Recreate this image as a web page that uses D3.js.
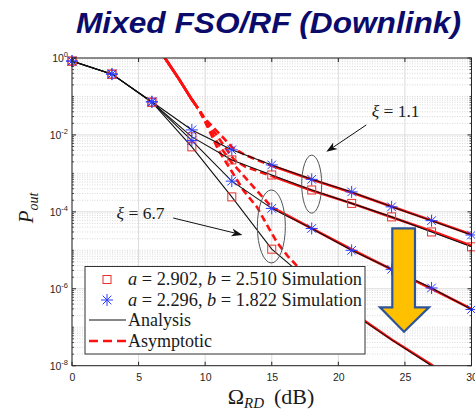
<!DOCTYPE html>
<html lang="en">
<head>
<meta charset="UTF-8">
<title>Mixed FSO/RF (Downlink)</title>
<script src="https://d3js.org/d3.v7.min.js"></script>
<style>
  body { margin: 0; background: #fff; }
  svg { display: block; }
  .tick text { font-family: "Liberation Sans", Arial, sans-serif; font-size: 10.5px; fill: #262626; }
  .serif { font-family: "Liberation Serif", "Times New Roman", serif; fill: #1a1a1a; }
</style>
</head>
<body>
<svg id="chart" width="475" height="410"></svg>
<script>
// SNR points (dB) of analysis / simulation
const snr = [0, 3, 6, 9, 12, 15, 18, 21, 24, 27, 30];

// analysis + simulation, xi = 1.1
const xi11Set2 = [0.835, 0.384, 0.073, 0.0135, 0.0041, 1.66e-3, 7.0e-4, 3.3e-4, 1.35e-4, 5.9e-5, 2.5e-5]; // a=2.296,b=1.822
const xi11Set1 = [0.83, 0.38, 0.071, 0.0089, 2.24e-3, 9.1e-4, 3.7e-4, 1.66e-4, 7.4e-5, 3.0e-5, 1.23e-5]; // a=2.902,b=2.510
// xi = 6.7
const xi67Set2 = [0.83, 0.38, 0.072, 0.0071, 6.3e-4, 1.23e-4, 3.7e-5, 1.0e-5, 3.2e-6, 1.05e-6, 2.9e-7];
const xi67Set1 = [0.83, 0.38, 0.071, 0.0049, 2.45e-4, 1.07e-5, 1.4e-6, 2.4e-7, 4.7e-8, 1.0e-8, 2.7e-9];
// simulation of the steepest case only shown down to 15 dB
const snrSimXi67Set1 = [0, 3, 6, 9, 12, 15];

// asymptotic curves [snr, Pout]
const asymXi11Set2 = [[6.9,1.1],[8,0.295],[9,0.083],[9.5,0.047],[10,0.026],[10.6,0.0158],[11.3,0.0089],[12,0.0048],[13,0.003],[15,1.58e-3],[18,6.9e-4],[21,3.2e-4],[24,1.38e-4],[27,6.0e-5],[30,2.57e-5]];
const asymXi11Set1 = [[6.9,1.1],[8,0.295],[9,0.083],[9.5,0.047],[10,0.024],[10.8,0.0105],[11.5,0.0047],[12.2,0.0022],[13,0.0015],[15,8.5e-4],[18,3.6e-4],[21,1.66e-4],[24,7.2e-5],[27,3.2e-5],[30,1.32e-5]];
const asymXi67Set2 = [[6.9,1.1],[8,0.295],[9,0.083],[9.5,0.047],[10.2,0.0178],[11,0.0056],[12,0.0019],[13,7.9e-4],[14,3.2e-4],[15,1.32e-4],[18,3.7e-5],[21,1.05e-5],[24,3.2e-6],[27,1.0e-6],[30,3.0e-7]];
const asymXi67Set1 = [[6.9,1.1],[8,0.295],[9,0.083],[9.5,0.047],[10.2,0.0158],[11,0.004],[12,1.12e-3],[12.9,3.5e-4],[13.9,1.32e-4],[14.7,4.2e-5],[15.4,1.6e-5],[16.2,7.1e-6],[17,3.6e-6],[18,1.5e-6],[21,2.5e-7],[24,4.8e-8],[27,1.05e-8],[29,3.3e-9]];

const xTicks = [0, 5, 10, 15, 20, 25, 30];
const yTickExp = [0, -2, -4, -6, -8];
const legendLabels = [
  ["a", " = 2.902, ", "b", " = 2.510 Simulation"],
  ["a", " = 2.296, ", "b", " = 1.822 Simulation"],
  "Analysis",
  "Asymptotic"
];

const svg = d3.select("#chart");
const L = 72, R = 471.5, T = 58, B = 365.7;
const x = d3.scaleLinear().domain([0, 30]).range([L, R]);
const y = d3.scaleLog().domain([1e-8, 1]).range([B, T]);

// title
svg.append("text").attr("x", 268.5).attr("y", 33).attr("text-anchor", "middle")
  .attr("textLength", 385).attr("lengthAdjust", "spacingAndGlyphs")
  .style("font-family", "Liberation Sans, Arial, sans-serif").style("font-weight", "bold")
  .style("font-style", "italic").style("font-size", "29px").attr("fill", "#0b0b6b")
  .text("Mixed FSO/RF (Downlink)");

// grid
const grid = svg.append("g");
const minors = [];
for (let e = -8; e < 0; e++) for (let m = 1; m < 10; m++) {
  const v = m * Math.pow(10, e);
  if (!(m === 1 && e % 2 === 0)) minors.push(v);
}
grid.selectAll(".ymin").data(minors).enter().append("line")
  .attr("x1", L).attr("x2", R).attr("y1", d => y(d)).attr("y2", d => y(d))
  .attr("stroke", "#cfcfcf").attr("stroke-width", 0.8).attr("stroke-dasharray", "1,1.5");
grid.selectAll(".ymaj").data(yTickExp).enter().append("line")
  .attr("x1", L).attr("x2", R).attr("y1", d => y(Math.pow(10, d))).attr("y2", d => y(Math.pow(10, d)))
  .attr("stroke", "#dcdcdc").attr("stroke-width", 1);
grid.selectAll(".xmaj").data(xTicks).enter().append("line")
  .attr("y1", T).attr("y2", B).attr("x1", d => x(d)).attr("x2", d => x(d))
  .attr("stroke", "#dcdcdc").attr("stroke-width", 1);

// plot clip
svg.append("clipPath").attr("id", "plot").append("rect")
  .attr("x", L).attr("y", T).attr("width", R - L).attr("height", B - T);
const plot = svg.append("g").attr("clip-path", "url(#plot)");

// asymptotic: dashed around the knee, solid elsewhere (as rendered in the source)
const asymLine = d3.line().x(d => x(d[0])).y(d => y(d[1]));
const asymSets = [
  [asymXi11Set2, 9.4, 15], [asymXi11Set1, 9.4, 15],
  [asymXi67Set2, 9.4, 15.5], [asymXi67Set1, 9.4, 21.5]
];
asymSets.forEach(([pts, d0, d1], i) => {
  const cid = "knee" + i;
  const cp = svg.append("clipPath").attr("id", cid);
  cp.append("rect").attr("x", x(d0)).attr("y", T).attr("width", x(d1) - x(d0)).attr("height", B - T);
  const cs = svg.append("clipPath").attr("id", cid + "o");
  cs.append("rect").attr("x", L).attr("y", T).attr("width", x(d0) - L).attr("height", B - T);
  cs.append("rect").attr("x", x(d1)).attr("y", T).attr("width", R - x(d1)).attr("height", B - T);
  plot.append("path").datum(pts).attr("d", asymLine).attr("clip-path", `url(#${cid}o)`)
    .attr("fill", "none").attr("stroke", "#ff1010").attr("stroke-width", 2.6);
  plot.append("path").datum(pts).attr("d", asymLine).attr("clip-path", `url(#${cid})`)
    .attr("fill", "none").attr("stroke", "#ff1010").attr("stroke-width", 2.6)
    .attr("stroke-dasharray", "7,4");
});

// analysis
const anaLine = d3.line().x((d, i) => x(snr[i])).y(d => y(d));
[xi11Set2, xi11Set1, xi67Set2, xi67Set1].forEach(s => {
  plot.append("path").datum(s).attr("d", anaLine).attr("fill", "none")
    .attr("stroke", "#111").attr("stroke-width", 1.1);
});

// markers
const star = (g, cx, cy, r) => {
  const a = r * 0.72;
  g.append("path").attr("d",
    `M${cx - r},${cy}H${cx + r}M${cx},${cy - r}V${cy + r}M${cx - a},${cy - a}L${cx + a},${cy + a}M${cx - a},${cy + a}L${cx + a},${cy - a}`)
    .attr("stroke", "#2b3cff").attr("stroke-width", 1).attr("fill", "none");
};
const square = (g, cx, cy, s) => {
  g.append("rect").attr("x", cx - s / 2).attr("y", cy - s / 2).attr("width", s).attr("height", s)
    .attr("fill", "none").attr("stroke", "#e8312f").attr("stroke-width", 1);
};
const mk = svg.append("g");
xi11Set1.forEach((v, i) => square(mk, x(snr[i]), y(v), 8));
snrSimXi67Set1.forEach((s, i) => square(mk, x(s), y(xi67Set1[i]), 8));
xi11Set2.forEach((v, i) => star(mk, x(snr[i]), y(v), 6));
xi67Set2.forEach((v, i) => star(mk, x(snr[i]), y(v), 6));

// annotations
const at = (db, e) => [x(db), y(Math.pow(10, e))];
const arrow = (p0, p1) => {
  const ang = Math.atan2(p1[1] - p0[1], p1[0] - p0[0]);
  const len = 11, w = 4;
  const bx = p1[0] - len * Math.cos(ang), by = p1[1] - len * Math.sin(ang);
  const nx = -Math.sin(ang) * w, ny = Math.cos(ang) * w;
  svg.append("line").attr("x1", p0[0]).attr("y1", p0[1]).attr("x2", bx + 3 * Math.cos(ang)).attr("y2", by + 3 * Math.sin(ang))
    .attr("stroke", "#111").attr("stroke-width", 1);
  const ix = p1[0] - (len - 3) * Math.cos(ang), iy = p1[1] - (len - 3) * Math.sin(ang);
  svg.append("path").attr("d", `M${p1[0]},${p1[1]}L${bx + nx},${by + ny}L${ix},${iy}L${bx - nx},${by - ny}Z`)
    .attr("fill", "#111");
};
const xiText = (p, val) => {
  const t = svg.append("text").attr("class", "serif").attr("x", p[0]).attr("y", p[1])
    .style("font-size", "17.5px").attr("dominant-baseline", "middle");
  t.append("tspan").style("font-style", "italic").text("ξ");
  t.append("tspan").text(" = " + val);
};
xiText(at(22.5, -1.43), "1.1");
arrow(at(22.1, -1.74), at(19.1, -2.44));
svg.append("ellipse").attr("cx", x(18.0)).attr("cy", y(Math.pow(10, -3.28))).attr("rx", 10).attr("ry", 29)
  .attr("fill", "none").attr("stroke", "#555").attr("stroke-width", 1);
xiText(at(3.35, -4.08), "6.7");
arrow(at(7.6, -4.16), at(12.8, -4.6));
svg.append("ellipse").attr("cx", x(14.97)).attr("cy", y(Math.pow(10, -4.38))).attr("rx", 14).attr("ry", 36.5)
  .attr("fill", "none").attr("stroke", "#555").attr("stroke-width", 1);

// axes frame & ticks
const ax = svg.append("g");
ax.append("g").attr("transform", `translate(0,${B})`)
  .call(d3.axisBottom(x).tickValues(xTicks).tickSize(0).tickPadding(8).tickFormat(d3.format("d")))
  .call(g => g.select(".domain").remove());
xTicks.forEach(t => {
  ax.append("line").attr("x1", x(t)).attr("x2", x(t)).attr("y1", B).attr("y2", B - 4).attr("stroke", "#262626");
  ax.append("line").attr("x1", x(t)).attr("x2", x(t)).attr("y1", T).attr("y2", T + 4).attr("stroke", "#262626");
});
minors.forEach(v => {
  ax.append("line").attr("x1", L).attr("x2", L + 2).attr("y1", y(v)).attr("y2", y(v)).attr("stroke", "#262626").attr("stroke-width", 0.8);
  ax.append("line").attr("x1", R).attr("x2", R - 2).attr("y1", y(v)).attr("y2", y(v)).attr("stroke", "#262626").attr("stroke-width", 0.8);
});
yTickExp.forEach(e => {
  const yy = y(Math.pow(10, e));
  ax.append("line").attr("x1", L).attr("x2", L + 4).attr("y1", yy).attr("y2", yy).attr("stroke", "#262626");
  ax.append("line").attr("x1", R).attr("x2", R - 4).attr("y1", yy).attr("y2", yy).attr("stroke", "#262626");
  const t = ax.append("text").attr("x", L - 4).attr("y", yy + 4).attr("text-anchor", "end")
    .style("font-family", "Liberation Sans, Arial, sans-serif").style("font-size", "10.5px").attr("fill", "#262626");
  t.append("tspan").text("10");
  t.append("tspan").attr("dy", -5).style("font-size", "7.5px").text(String(e));
});
ax.append("rect").attr("x", L).attr("y", T).attr("width", R - L).attr("height", B - T)
  .attr("fill", "none").attr("stroke", "#262626").attr("stroke-width", 1);

// axis titles
const xt = svg.append("text").attr("class", "serif").attr("x", 271).attr("y", 404)
  .attr("text-anchor", "middle").style("font-size", "22px");
xt.append("tspan").text("Ω");
xt.append("tspan").attr("dy", 4).style("font-size", "15px").style("font-style", "italic").text("RD");
xt.append("tspan").attr("dy", -4).text("\u2009 (dB)");
const yt = svg.append("text").attr("class", "serif").attr("transform", "translate(33,208) rotate(-90)")
  .attr("text-anchor", "middle").style("font-size", "21px");
yt.append("tspan").style("font-style", "italic").text("P");
yt.append("tspan").attr("dy", 5).style("font-size", "14px").style("font-style", "italic").text("out");

// legend
const lg = svg.append("g");
lg.append("rect").attr("x", 85).attr("y", 266.5).attr("width", 280).attr("height", 87.5)
  .attr("fill", "#fff").attr("stroke", "#333").attr("stroke-width", 1);
const rowY = [279.5, 300, 320, 341];
square(lg, 107, rowY[0], 8);
star(lg, 107, rowY[1], 6);
lg.append("line").attr("x1", 89).attr("x2", 126).attr("y1", rowY[2]).attr("y2", rowY[2]).attr("stroke", "#111").attr("stroke-width", 1.1);
lg.append("line").attr("x1", 89).attr("x2", 128).attr("y1", rowY[3]).attr("y2", rowY[3]).attr("stroke", "#ff1010")
  .attr("stroke-width", 2.6).attr("stroke-dasharray", "9,5");
legendLabels.forEach((lab, i) => {
  const t = lg.append("text").attr("class", "serif").attr("x", 128).attr("y", rowY[i] + 5.5).style("font-size", "18px");
  if (Array.isArray(lab)) {
    t.attr("textLength", 234).attr("lengthAdjust", "spacingAndGlyphs");
    lab.forEach((p, j) => t.append("tspan").style("font-style", j % 2 === 0 ? "italic" : "normal").text(p));
  } else t.text(lab);
});

// orange down arrow
const tip = [404, 331.7];
svg.append("path")
  .attr("d", `M392.3,228.3H415V307.3H429L${tip[0]},${tip[1]}L380,307.3H392.3Z`)
  .attr("fill", "#ffc000").attr("stroke", "#2f5597").attr("stroke-width", 2.2).attr("stroke-linejoin", "miter");
</script>
</body>
</html>
